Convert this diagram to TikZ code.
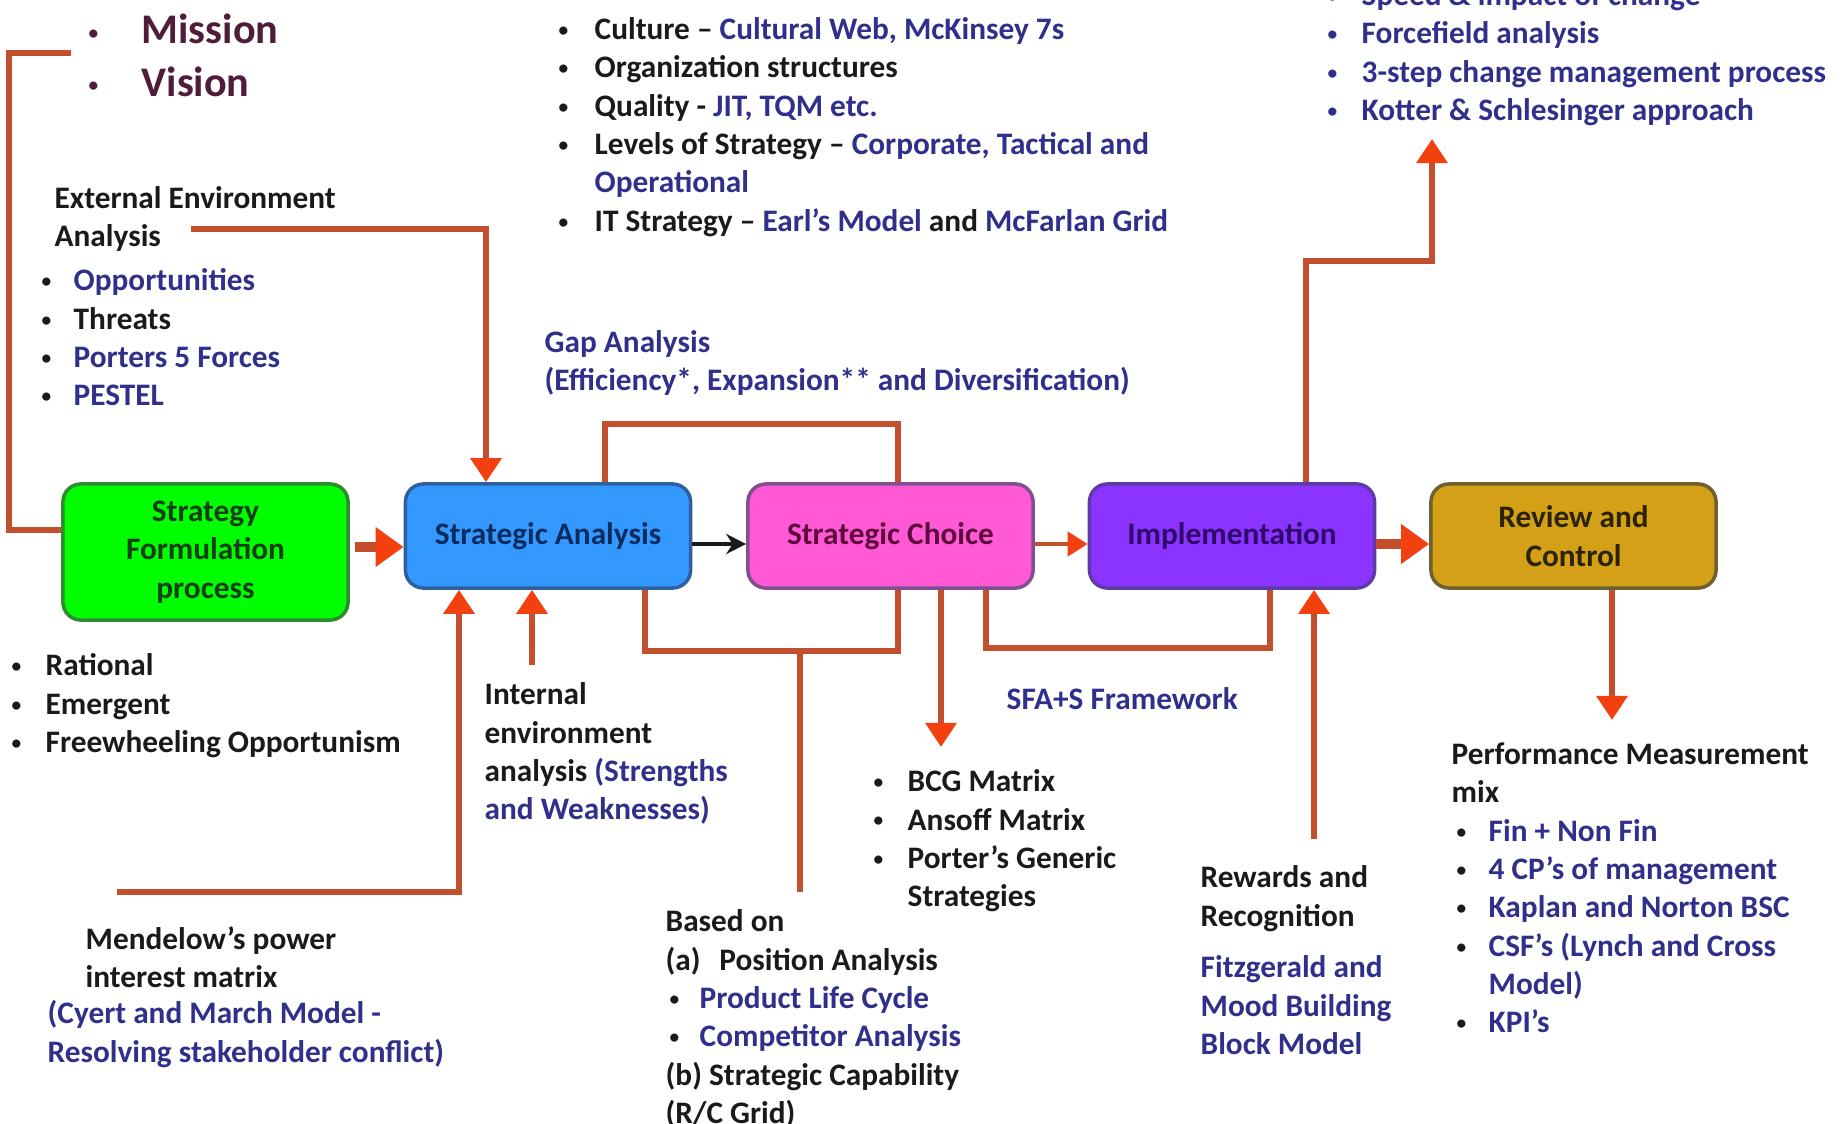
\documentclass[tikz,border=0pt]{standalone}
\usepackage{fontspec}
\setmainfont{Carlito}
\usepackage{tikz}
\usetikzlibrary{arrows.meta,calc}

\definecolor{txtblack}{HTML}{1A1A1A}
\definecolor{txtblue}{HTML}{30308C}
\definecolor{mission}{HTML}{4F1D3A}
\definecolor{linkred}{HTML}{C24F2E}
\definecolor{tipred}{HTML}{F2400F}
\definecolor{sfpfill}{HTML}{00FF00}
\definecolor{sfpedge}{HTML}{2E8B2E}
\definecolor{sfptext}{HTML}{173D17}
\definecolor{safill}{HTML}{3399FF}
\definecolor{saedge}{HTML}{2F5F9F}
\definecolor{satext}{HTML}{0C2B5E}
\definecolor{scfill}{HTML}{FF59D6}
\definecolor{scedge}{HTML}{7F4F8F}
\definecolor{sctext}{HTML}{5E0A3C}
\definecolor{implfill}{HTML}{8B33FF}
\definecolor{impledge}{HTML}{5E3AA8}
\definecolor{impltext}{HTML}{2F0A6B}
\definecolor{rcfill}{HTML}{D4A017}
\definecolor{rcedge}{HTML}{6E6030}
\definecolor{rctext}{HTML}{2B2300}

\newcommand{\bul}[1][0.36cm]{\makebox[#1][l]{\raisebox{0.2ex}{\fontsize{5.5}{6}\selectfont\textbullet}}}
\newcommand{\blu}[1]{\textcolor{txtblue}{#1}}

\tikzset{
  box/.style={draw, line width=1pt, rounded corners=0.18cm, minimum width=2.85cm,
    minimum height=1.04cm, align=center, inner sep=2pt,
    font=\fontsize{8.9}{10.9}\selectfont\bfseries},
  txt/.style={anchor=north west, align=left, inner sep=0pt, text=txtblack,
    font=\fontsize{8.9}{10.9}\selectfont\bfseries, execute at begin node=\strut},
  link/.style={draw=linkred, line width=1.7pt},
  tip/.style={-{Triangle[width=0.3cm,length=0.24cm,color=tipred]}},
  bigtip/.style={-{Triangle[width=0.38cm,length=0.28cm,color=tipred]}},
}

\begin{document}
\begin{tikzpicture}[x=0.01cm, y=-0.01cm]
\useasboundingbox[fill=white] (0,0) rectangle (1845,1124);
\clip (0,0) rectangle (1845,1124);

% process boxes
\node[box, fill=sfpfill, draw=sfpedge, text=sfptext, minimum height=1.36cm] (sfp) at (205.5,552) {Strategy\\Formulation\\process};
\node[box, fill=safill, draw=saedge, text=satext] (sa) at (548,536) {Strategic Analysis};
\node[box, fill=scfill, draw=scedge, text=sctext] (sc) at (890.5,536) {Strategic Choice};
\node[box, fill=implfill, draw=impledge, text=impltext] (impl) at (1232,536) {Implementation};
\node[box, fill=rcfill, draw=rcedge, text=rctext] (rc) at (1573.5,536) {Review and\\Control};

% texts
\node[txt, font=\fontsize{12}{15}\selectfont\bfseries, text=mission] (mv) at (88,13) {\bul[0.53cm]Mission\\\bul[0.53cm]Vision};
\node[txt] (culture) at (558,17) {\bul Culture -- \blu{Cultural Web, McKinsey 7s}\\
  \bul Organization structures\\
  \bul Quality - \blu{JIT, TQM etc.}\\
  \bul Levels of Strategy -- \blu{Corporate, Tactical and}\\
  \hspace*{0.36cm}\blu{Operational}\\
  \bul IT Strategy -- \blu{Earl's Model} and \blu{McFarlan Grid}};
\node[txt, text=txtblue] (change) at (1327,-17) {\bul[0.34cm]Speed \& impact of change\\
  \bul[0.34cm]Forcefield analysis\\
  \bul[0.34cm]3-step change management process\\
  \bul[0.34cm]Kotter \& Schlesinger approach};
\node[txt] (extenv) at (54,186) {External Environment\\Analysis};
\node[txt] (extlist) at (41,268) {\bul[0.32cm]\blu{Opportunities}\\
  \bul[0.32cm]Threats\\
  \bul[0.32cm]\blu{Porters 5 Forces}\\
  \bul[0.32cm]\blu{PESTEL}};
\node[txt, text=txtblue] (gap) at (544,330) {Gap Analysis\\(Efficiency*, Expansion** and Diversification)};
\node[txt] (formtypes) at (11,653) {\bul[0.34cm]Rational\\\bul[0.34cm]Emergent\\\bul[0.34cm]Freewheeling Opportunism};
\node[txt] (intenv) at (484,682) {Internal\\environment\\analysis \blu{(Strengths}\\\blu{and Weaknesses)}};
\node[txt, text=txtblue] (sfa) at (1006,682) {SFA+S Framework};
\node[txt] (tools) at (873,769) {\bul[0.34cm]BCG Matrix\\\bul[0.34cm]Ansoff Matrix\\
  \bul[0.34cm]Porter's Generic\\\hspace*{0.34cm}Strategies};
\node[txt] (based) at (665,909) {Based on\\(a)\hspace{0.6em}Position Analysis\\
  \hspace*{0.04cm}\bul[0.30cm]\blu{Product Life Cycle}\\
  \hspace*{0.04cm}\bul[0.30cm]\blu{Competitor Analysis}\\
  (b) Strategic Capability\\(R/C Grid)};
\node[txt] (rewards) at (1200,865) {Rewards and\\Recognition};
\node[txt, text=txtblue] (fitz) at (1200,955) {Fitzgerald and\\Mood Building\\Block Model};
\node[txt] (perf) at (1451,742) {Performance Measurement\\mix\\
  \hspace*{0.05cm}\bul[0.32cm]\blu{Fin + Non Fin}\\
  \hspace*{0.05cm}\bul[0.32cm]\blu{4 CP's of management}\\
  \hspace*{0.05cm}\bul[0.32cm]\blu{Kaplan and Norton BSC}\\
  \hspace*{0.05cm}\bul[0.32cm]\blu{CSF's (Lynch and Cross}\\
  \hspace*{0.37cm}\blu{Model)}\\
  \hspace*{0.05cm}\bul[0.32cm]\blu{KPI's}};
\node[txt] (mendelow) at (85,926) {Mendelow's power\\interest matrix};
\node[txt, text=txtblue] (cyert) at (47,1000) {(Cyert and March Model -\\Resolving stakeholder conflict)};

% free ends of the links
\coordinate (mvend) at (71,53);
\coordinate (extend) at (191,229);
\coordinate (tap) at (800,651);
\coordinate (basedtop) at (800,892);
\coordinate (toolstop) at (941,747);
\coordinate (mendend) at (117,892);
\coordinate (intend) at (532,665);
\coordinate (rewend) at (1314,839);
\coordinate (changeend) at (1432,139);
\coordinate (perfend) at (1612,720);

% links
\draw[link] (sfp.west |- 0,530) -| (9,53) -- (mvend);
\draw[link, tip] (extend) -| (sa.north -| 486,0);
\draw[link] (sa.north -| 605,0) -- (605,424) -| (sc.north -| 898,0);
\draw[link] (sa.south -| 645,0) |- (898,651) -- (sc.south -| 898,0);
\draw[link] (tap) -- (basedtop);
\draw[link, tip] (sc.south -| 941,0) -- (toolstop);
\draw[link] (sc.south -| 986,0) |- (1270,648) -- (impl.south -| 1270,0);
\draw[link, tip] (mendend) -| (sa.south -| 459,0);
\draw[link, tip] (intend) -- (sa.south -| 532,0);
\draw[link, tip] (rewend) -- (impl.south -| 1314,0);
\draw[link, tip] (impl.north -| 1306,0) |- (1432,261) -- (changeend);
\draw[link, tip] (rc.south -| 1612,0) -- (perfend);

% main flow
\draw[link, line width=2.6pt, bigtip] ($(sfp.east |- 0,547)+(5,0)$) -- (sa.west |- 0,547);
\draw[txtblack, line width=1.3pt, -{Stealth[length=0.2cm,width=0.2cm]}] (sa.east |- 0,544) -- (sc.west |- 0,544);
\draw[link, line width=1.3pt, -{Triangle[width=0.24cm,length=0.2cm,color=tipred]}] (sc.east |- 0,544) -- (impl.west |- 0,544);
\draw[link, line width=2.6pt, bigtip] (impl.east |- 0,544) -- (rc.west |- 0,544);
\end{tikzpicture}
\end{document}
